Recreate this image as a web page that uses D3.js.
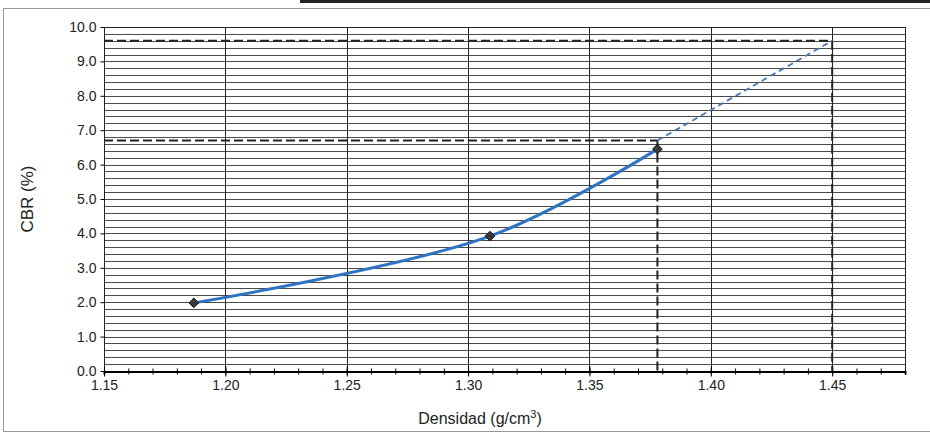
<!DOCTYPE html>
<html>
<head>
<meta charset="utf-8">
<script src="https://cdn.jsdelivr.net/npm/d3@7"></script>
<style>
  body { margin: 0; background: #fff; }
  text { font-family: "Liberation Sans", Arial, sans-serif; fill: #222; }
</style>
</head>
<body>
<div id="chart"></div>
<script>
// CBR vs densidad
var densidad = [1.187, 1.309, 1.378];
var cbr = [1.98, 3.92, 6.45];
var xTicks = [1.15, 1.20, 1.25, 1.30, 1.35, 1.40, 1.45];
var yTicks = [0, 1, 2, 3, 4, 5, 6, 7, 8, 9, 10];
// reference lines (dashed)
var refX = [1.378, 1.45];
var refY = [6.7, 9.6];
var extension = [[1.378, 6.7], [1.45, 9.6]];

var w = 930;
var h = 434;
var pLeft = 104, pRight = 905, pTop = 27, pBottom = 371;

var xScale = d3.scaleLinear()
  .domain([1.15, 1.48])
  .range([pLeft, pRight]);

var yScale = d3.scaleLinear()
  .domain([0, 10])
  .range([pBottom, pTop]);

var svg = d3.select("#chart")
  .append("svg")
  .attr("width", w)
  .attr("height", h);

// outer frame
svg.append("rect")
  .attr("x", 3.5).attr("y", 8.5)
  .attr("width", w - 3).attr("height", h - 11)
  .attr("fill", "none")
  .attr("stroke", "#999")
  .attr("stroke-width", 1);
svg.append("line")
  .attr("x1", 300).attr("x2", w)
  .attr("y1", 1.5).attr("y2", 1.5)
  .attr("stroke", "#222")
  .attr("stroke-width", 3);

// minor horizontal grid every 0.2
var minorY = d3.range(0, 50).map(function(i) { return i * 0.2; });
svg.append("g")
  .selectAll("line")
  .data(minorY)
  .enter().append("line")
  .attr("x1", pLeft).attr("x2", pRight)
  .attr("y1", function(d) { return Math.round(yScale(d)) + 0.5; })
  .attr("y2", function(d) { return Math.round(yScale(d)) + 0.5; })
  .attr("stroke", "#4a4a4a")
  .attr("stroke-width", 1);

// vertical grid at major ticks
svg.append("g")
  .selectAll("line")
  .data(xTicks.slice(1))
  .enter().append("line")
  .attr("x1", function(d) { return Math.round(xScale(d)) + 0.5; })
  .attr("x2", function(d) { return Math.round(xScale(d)) + 0.5; })
  .attr("y1", pTop).attr("y2", pBottom)
  .attr("stroke", "#222")
  .attr("stroke-width", 1);

// plot border
svg.append("rect")
  .attr("x", pLeft + 0.5).attr("y", pTop + 0.5)
  .attr("width", pRight - pLeft).attr("height", pBottom - pTop)
  .attr("fill", "none")
  .attr("stroke", "#222")
  .attr("stroke-width", 1);

// Y axis
var yAxis = d3.axisLeft(yScale)
  .tickValues(yTicks)
  .tickSize(4)
  .tickFormat(d3.format(".1f"));
var gy = svg.append("g")
  .attr("transform", "translate(" + (pLeft + 0.5) + ",0)")
  .call(yAxis);
gy.select(".domain").remove();
gy.selectAll("text").style("font-size", "14px").attr("x", -8);

// X axis (minor ticks every 0.01)
var xMinor = d3.axisBottom(xScale)
  .tickValues(d3.range(115, 149).map(function(i) { return i / 100; }))
  .tickSize(3)
  .tickFormat("");
var gxm = svg.append("g")
  .attr("transform", "translate(0," + (pBottom + 0.5) + ")")
  .call(xMinor);
gxm.select(".domain").attr("stroke-width", 2);
gxm.selectAll(".tick line").attr("y1", -3);

var xAxis = d3.axisBottom(xScale)
  .tickValues(xTicks)
  .tickSize(5)
  .tickFormat(d3.format(".2f"));
var gx = svg.append("g")
  .attr("transform", "translate(0," + (pBottom + 0.5) + ")")
  .call(xAxis);
gx.select(".domain").remove();
gx.selectAll(".tick line").attr("y1", -5);
gx.selectAll("text").style("font-size", "14px").attr("y", 9);

// axis titles
svg.append("text")
  .attr("transform", "rotate(-90)")
  .attr("x", -(pTop + pBottom) / 2)
  .attr("y", 33)
  .style("text-anchor", "middle")
  .style("font-size", "17px")
  .text("CBR (%)");

var xt = svg.append("text")
  .attr("x", 480)
  .attr("y", 424)
  .style("text-anchor", "middle")
  .style("font-size", "16px");
xt.append("tspan").text("Densidad (g/cm");
xt.append("tspan").attr("dy", -6).style("font-size", "11px").text("3");
xt.append("tspan").attr("dy", 6).text(")");

// dashed reference lines
var dashG = svg.append("g")
  .attr("stroke", "#222")
  .attr("stroke-width", 2)
  .attr("stroke-dasharray", "9,4")
  .attr("fill", "none");
dashG.selectAll(".h")
  .data(refY)
  .enter().append("line")
  .attr("class", "h")
  .attr("x1", pLeft)
  .attr("x2", function(d, i) { return xScale(refX[i]); })
  .attr("y1", function(d) { return yScale(d); })
  .attr("y2", function(d) { return yScale(d); });
dashG.selectAll(".v")
  .data(refX)
  .enter().append("line")
  .attr("class", "v")
  .attr("x1", function(d) { return xScale(d); })
  .attr("x2", function(d) { return xScale(d); })
  .attr("y1", function(d, i) { return yScale(refY[i]); })
  .attr("y2", pBottom);

// blue dashed extension
var line = d3.line()
  .x(function(d) { return xScale(d[0]); })
  .y(function(d) { return yScale(d[1]); });
svg.append("path")
  .attr("d", line(extension))
  .attr("fill", "none")
  .attr("stroke", "#4677b5")
  .attr("stroke-width", 1.8)
  .attr("stroke-dasharray", "6,4");

// data curve
var pts = densidad.map(function(d, i) { return [d, cbr[i]]; });
var curve = d3.line()
  .curve(d3.curveCatmullRom.alpha(0.5))
  .x(function(d) { return xScale(d[0]); })
  .y(function(d) { return yScale(d[1]); });
svg.append("path")
  .attr("d", curve(pts))
  .attr("fill", "none")
  .attr("stroke", "#2f74c4")
  .attr("stroke-width", 3);

// markers
svg.selectAll(".pt")
  .data(pts)
  .enter().append("path")
  .attr("class", "pt")
  .attr("d", d3.symbol().type(d3.symbolDiamond2).size(60))
  .attr("transform", function(d) { return "translate(" + xScale(d[0]) + "," + yScale(d[1]) + ")"; })
  .attr("fill", "#3a3a3a")
  .attr("stroke", "#111")
  .attr("stroke-width", 1);
</script>
</body>
</html>
